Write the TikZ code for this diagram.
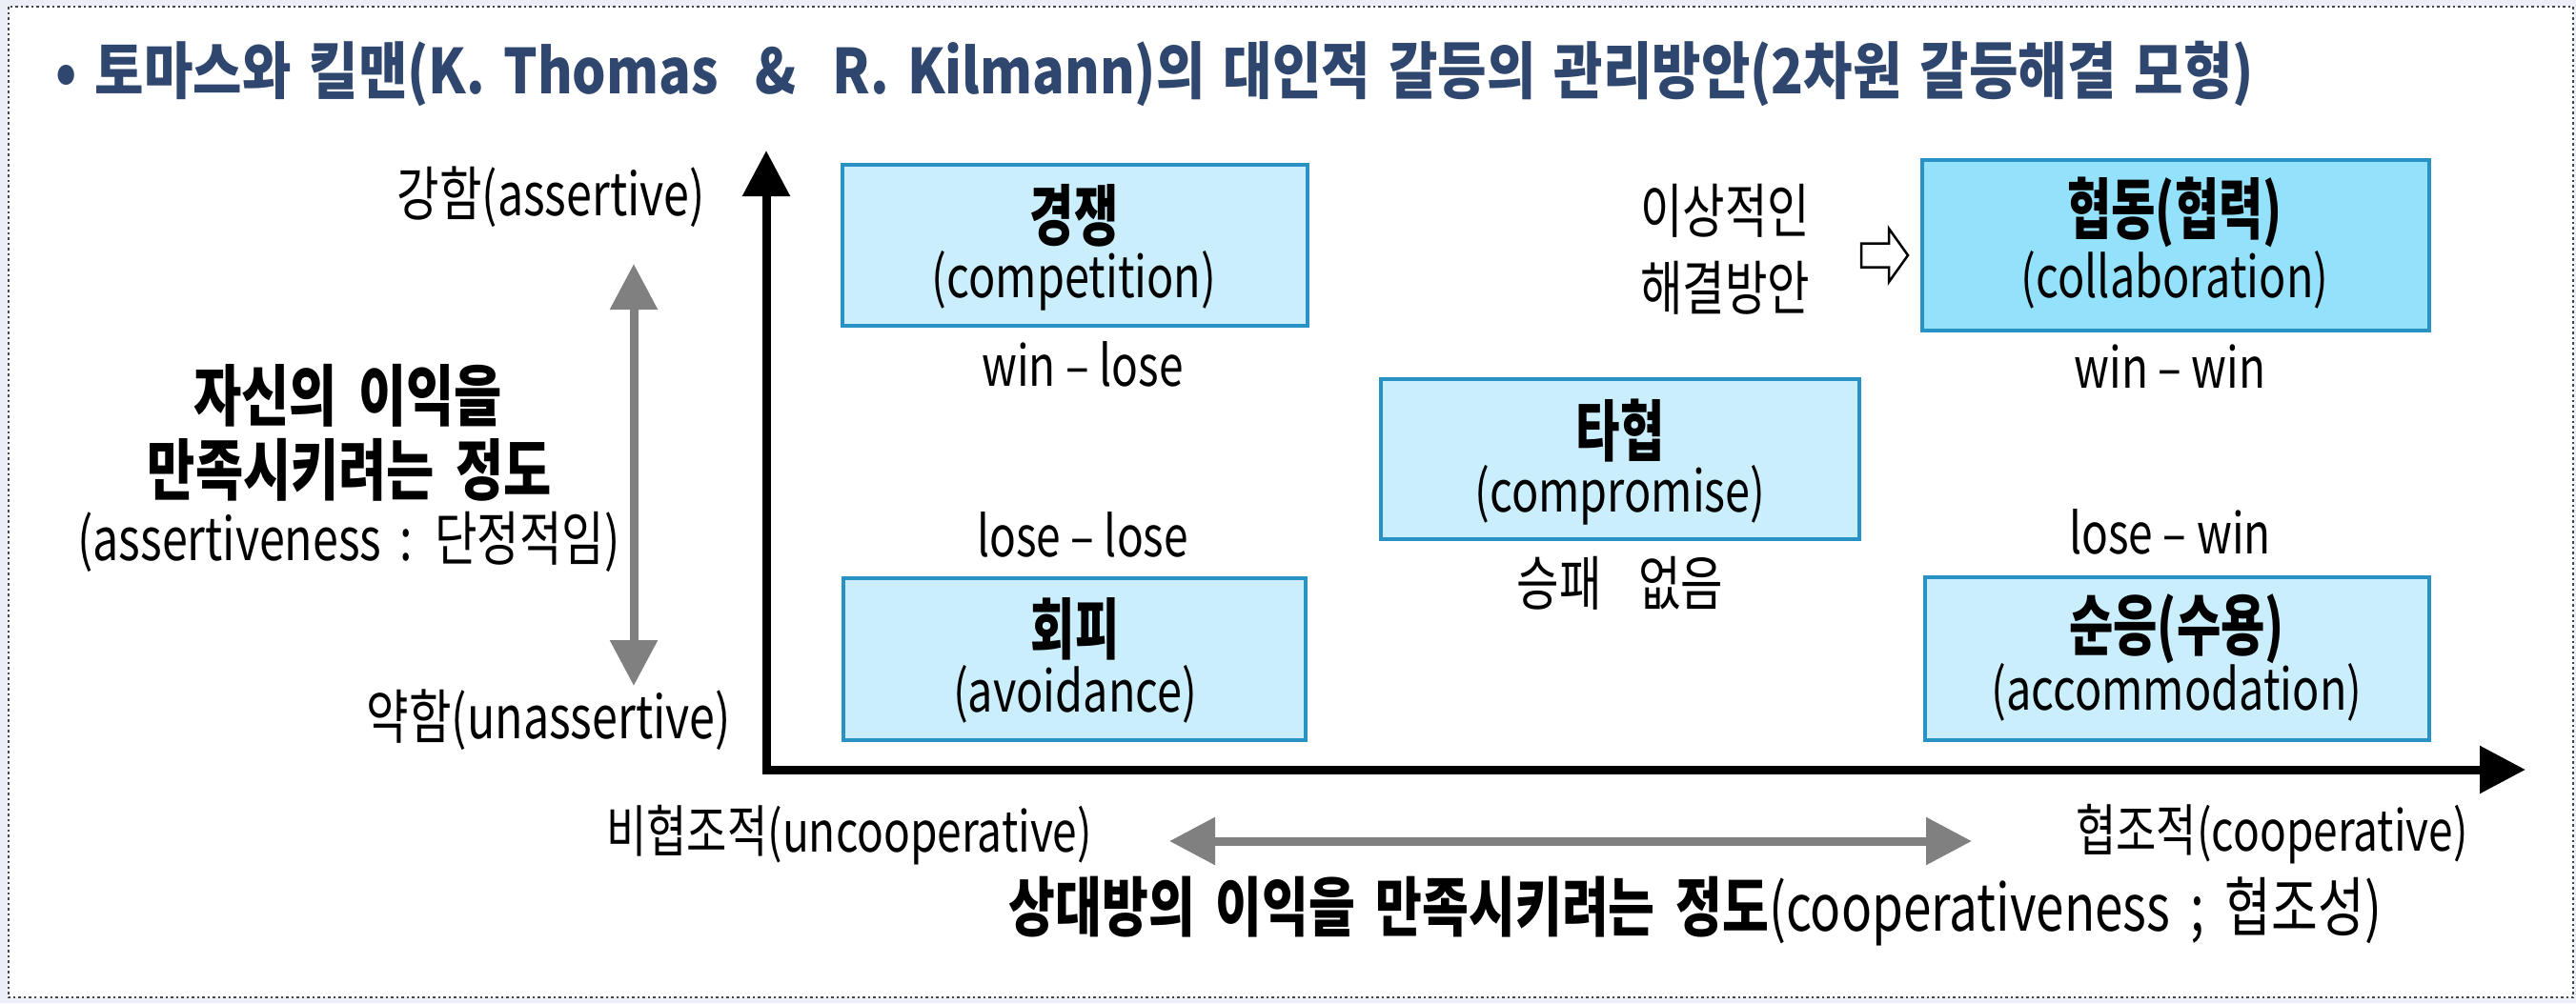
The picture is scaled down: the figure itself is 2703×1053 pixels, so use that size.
\documentclass[tikz,border=0pt]{standalone}
\usepackage{fontspec}
\setmainfont{Noto Sans CJK KR}[FakeStretch=0.78, WordSpace=1.8]
\newfontfamily\boxfont{Noto Sans CJK KR}[FakeStretch=0.72]
\newfontfamily\titlefont{Noto Sans CJK KR}[FakeStretch=0.86, WordSpace=1.5]
\usetikzlibrary{arrows.meta}
\definecolor{bgc}{RGB}{236,239,247}
\definecolor{boxfill}{RGB}{202,238,252}
\definecolor{boxfilldark}{RGB}{148,225,252}
\definecolor{boxline}{RGB}{40,146,196}
\definecolor{titlec}{RGB}{47,70,110}
\definecolor{grayarrow}{RGB}{128,128,128}
\definecolor{framec}{RGB}{70,70,70}
\newcommand{\dsh}{\hspace{0.18em}–\hspace{0.18em}}
\begin{document}
\begin{tikzpicture}[x=1pt,y=-1pt,
  box/.style={draw=boxline, line width=4.5pt, fill=boxfill, rectangle, inner sep=0pt},
  lab/.style={inner sep=0pt, font=\fontsize{59}{66}\selectfont},
  sublab/.style={inner sep=0pt, font=\fontsize{60}{66}\selectfont},
  klab/.style={inner sep=0pt, font=\fontsize{62}{70}\selectfont},
  blab/.style={inner sep=0pt, font=\boxfont\fontsize{70}{78}\selectfont\bfseries},
  sidelab/.style={inner sep=0pt, font=\fontsize{70}{78}\selectfont\bfseries},
  axisline/.style={line width=9pt, -{Triangle[length=48pt,width=48pt]}},
  grayline/.style={line width=9pt, draw=grayarrow, {Triangle[length=48pt,width=48pt]}-{Triangle[length=48pt,width=48pt]}},
]
\useasboundingbox (0,0) rectangle (2703,1053);
\fill[bgc] (0,0) rectangle (2703,1053);
\fill[white] (9,7) rectangle (2700,1047);
\draw[framec, line width=2.5pt, dash pattern=on 2.5pt off 3pt] (9,7) rectangle (2700,1047);

% title
\node[inner sep=0pt, anchor=west, text=titlec, font=\titlefont\fontsize{65}{72}\selectfont\bfseries] (title) at (58,77)
  {• 토마스와 킬맨(K. Thomas \ \& \ R. Kilmann)의 대인적 갈등의 관리방안(2차원 갈등해결 모형)};

% axes
\coordinate (ytop) at (804,158);
\coordinate (origin) at (804,808);
\coordinate (xend) at (2650,808);
\draw[axisline] (origin) -- (xend);
\draw[axisline] (origin) -- (ytop);
\fill (799.5,803.5) rectangle (808.5,812.5);

% gray arrows
\coordinate (gvt) at (665,277);
\coordinate (gvb) at (665,720);
\draw[grayline] (gvt) -- (gvb);
\coordinate (ghl) at (1227,883);
\coordinate (ghr) at (2069,883);
\draw[grayline] (ghl) -- (ghr);

% left labels
\node[klab, anchor=east] (strong) at (740,207) {강함(assertive)};
\node[klab, anchor=east] (weak) at (767,756) {약함(unassertive)};
\node[sidelab] (self1) at (365,415) {자신의 이익을};
\node[sidelab] (self2) at (367,493) {만족시키려는 정도};
\node[klab] (self3) at (366,569) {(assertiveness : 단정적임)};

% bottom labels
\node[lab] (uncoop) at (891,877) {비협조적(uncooperative)};
\node[lab] (coop) at (2384,876) {협조적(cooperative)};
\node[inner sep=0pt, font=\fontsize{68}{74}\selectfont] (other) at (1779,957)
  {\textbf{상대방의 이익을 만족시키려는 정도}(cooperativeness ; 협조성)};

% boxes
\node[box, minimum width=488pt, minimum height=169pt] (compbox) at (1128,257.5) {};
\node[box, minimum width=502pt, minimum height=168pt] (cmprbox) at (1700,482) {};
\node[box, minimum width=485pt, minimum height=170pt] (avoidbox) at (1127.5,692) {};
\node[box, fill=boxfilldark, minimum width=532pt, minimum height=179pt] (collbox) at (2283,257.5) {};
\node[box, minimum width=529pt, minimum height=171pt] (accbox) at (2284.5,691.5) {};

\node[blab] (comp1) at (1127,226) {경쟁};
\node[sublab] (comp2) at (1127,295) {(competition)};
\node[blab] (cmpr1) at (1700,452) {타협};
\node[sublab] (cmpr2) at (1700,520) {(compromise)};
\node[blab] (avoid1) at (1128,660) {회피};
\node[sublab] (avoid2) at (1128,729) {(avoidance)};
\node[blab] (coll1) at (2282,223) {협동(협력)};
\node[sublab] (coll2) at (2282,294) {(collaboration)};
\node[blab] (acc1) at (2284,660) {순응(수용)};
\node[sublab] (acc2) at (2284,727) {(accommodation)};

% outcome labels
\node[lab] (wl) at (1136,382) {win\dsh lose};
\node[lab] (ll) at (1136,561) {lose\dsh lose};
\node[lab] (ww) at (2277,385) {win\dsh win};
\node[lab] (lw) at (2277,558) {lose\dsh win};
\node[klab] (none) at (1700,612) {승패 \ 없음};
\node[klab] (ideal1) at (1810,221) {이상적인};
\node[klab] (ideal2) at (1810,302) {해결방안};

% hollow arrow
\draw[line width=2.5pt, fill=white, line join=miter]
  (1953,255.5) -- (1982,255.5) -- (1982,240) -- (2002,268) -- (1982,296) -- (1982,280.5) -- (1953,280.5) -- cycle;
\end{tikzpicture}
\end{document}
